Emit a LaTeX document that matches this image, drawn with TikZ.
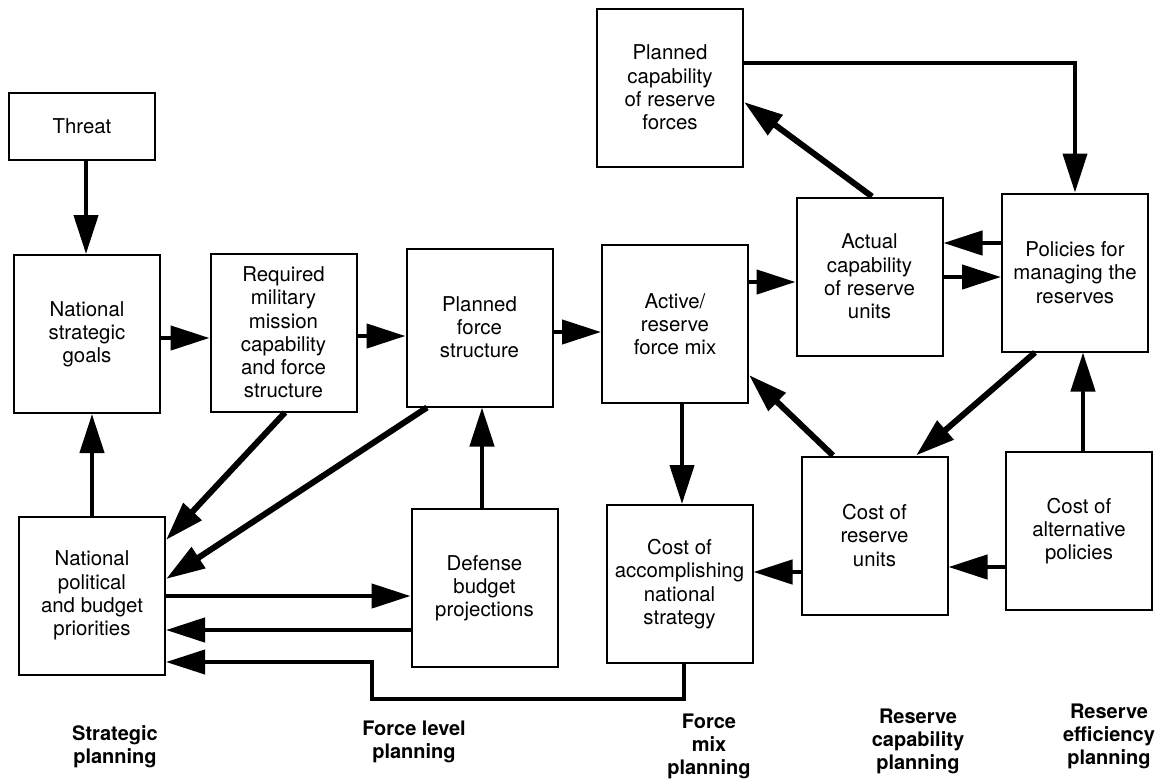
\documentclass[tikz,border=0pt]{standalone}
\usepackage{fontspec}
\setmainfont{TeX Gyre Heros}
\usetikzlibrary{arrows.meta}

\tikzset{
  box/.style={draw=black, line width=1pt, fill=white, align=center,
    minimum width=73pt, minimum height=79pt, inner sep=2pt,
    font=\fontsize{10.2}{11.6}\selectfont},
  smallbox/.style={box, minimum height=33.5pt},
  tag/.style={align=center, font=\fontsize{10}{11.5}\selectfont\bfseries},
  arr/.style={line width=2.2pt, -{Triangle[length=19.5pt,width=12pt]}},
  diag/.style={arr, line width=3pt},
  feed/.style={arr, line width=2pt},
}

\begin{document}
\begin{tikzpicture}[x=0.5pt, y=-0.5pt]
  \useasboundingbox (0,0) rectangle (1163,783);

  % boxes (centres in image pixels)
  \node[smallbox] (threat) at (82,126.5) {Threat};
  \node[box] (nsg)  at (87,334)     {National\\strategic\\goals};
  \node[box] (req)  at (283.5,332.5){Required\\military\\mission\\capability\\and force\\structure};
  \node[box] (pfs)  at (479.5,327.5){Planned\\force\\structure};
  \node[box] (arm)  at (675,324)    {Active/\\reserve\\force mix};
  \node[box] (acr)  at (869.5,276.5){Actual\\capability\\of reserve\\units};
  \node[box] (pol)  at (1075,272.5) {Policies for\\managing the\\reserves};
  \node[box] (pcr)  at (670,87.5)   {Planned\\capability\\of reserve\\forces};
  \node[box] (npb)  at (92,595.5)   {National\\political\\and budget\\priorities};
  \node[box] (dbp)  at (484.5,588)  {Defense\\budget\\projections};
  \node[box] (cans) at (679.5,584)  {Cost of\\accomplishing\\national\\strategy};
  \node[box] (cru)  at (874.5,535.5){Cost of\\reserve\\units};
  \node[box] (cap)  at (1079,531)   {Cost of\\alternative\\policies};

  % planning levels along the bottom
  \node[tag] (lvl1) at (115,747)  {Strategic\\planning};
  \node[tag] (lvl2) at (414,742)  {Force level\\planning};
  \node[tag] (lvl3) at (709,746)  {Force\\mix\\planning};
  \node[tag] (lvl4) at (918,741)  {Reserve\\capability\\planning};
  \node[tag] (lvl5) at (1109,736) {Reserve\\efficiency\\planning};

  % main chain
  \draw[arr] (threat.south -| 86,0) -- (nsg.north -| 86,0);
  \draw[arr] (nsg.east |- 0,338) -- (req.west |- 0,338);
  \draw[arr] (req.east |- 0,336) -- (pfs.west |- 0,336);
  \draw[arr] (pfs.east |- 0,332) -- (arm.west |- 0,332);
  \draw[arr] (arm.east |- 0,282) -- (acr.west |- 0,282);
  \draw[arr] (pol.west |- 0,243) -- (acr.east |- 0,243);
  \draw[arr] (acr.east |- 0,277) -- (pol.west |- 0,277);
  \draw[diag] (acr.north -| 872,0) -- (pcr.east |- 0,102);
  \draw[feed] (pcr.east |- 0,63) -| (pol.north);

  % right-hand loops
  \draw[diag] (pol.south -| 1035,0) -- (cru.north -| 916,0);
  \draw[arr] (cap.north -| 1083,0) -- (pol.south -| 1083,0);
  \draw[diag] (cru.north -| 833,0) -- (arm.east |- 0,375);
  \draw[arr] (arm.south -| 682,0) -- (cans.north -| 682,0);
  \draw[arr] (cru.west |- 0,572) -- (cans.east |- 0,572);
  \draw[arr] (cap.west |- 0,567) -- (cru.east |- 0,567);

  % feedback into national priorities
  \draw[diag] (req.south -| 285,0) -- (npb.east |- 0,540);
  \draw[diag] (pfs.south -| 427,0) -- (npb.east |- 0,579);
  \draw[arr] (npb.north -| 92,0) -- (nsg.south -| 92,0);
  \draw[arr] (dbp.north -| 482,0) -- (pfs.south -| 482,0);
  \draw[arr] (npb.east |- 0,596) -- (dbp.west |- 0,596);
  \draw[arr] (dbp.west |- 0,630) -- (npb.east |- 0,630);
  \draw[feed] (cans.south -| 684,0) |- (372,699) |- (npb.east |- 0,662);
\end{tikzpicture}
\end{document}
